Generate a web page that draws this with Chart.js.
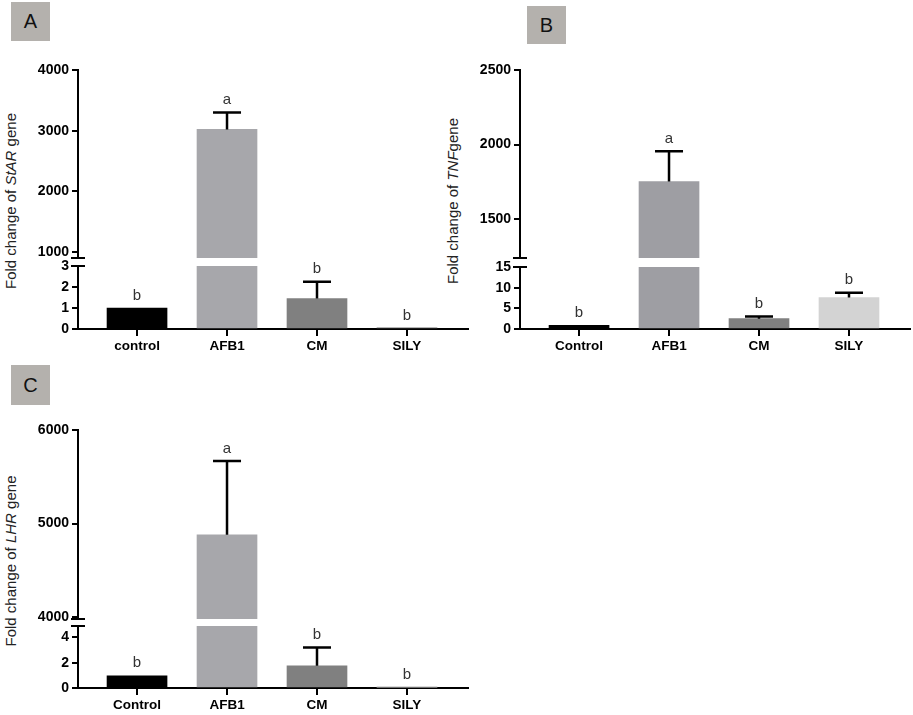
<!DOCTYPE html>
<html>
<head>
<meta charset="utf-8">
<script src="https://cdn.jsdelivr.net/npm/chart.js@4.4.0/dist/chart.umd.min.js"></script>
<style>
  body { margin: 0; background: #fff; width: 913px; height: 715px; position: relative; overflow: hidden;
         font-family: "Liberation Sans", Arial, sans-serif; }
  .box { position: absolute; background: #b4b1ad; font-size: 20px; color: #111;
         display: flex; align-items: center; justify-content: center; }
  .ytitle { position: absolute; white-space: nowrap; font-size: 15px; color: #222;
            transform: translate(-50%, -50%) rotate(-90deg); }
  .seg { position: absolute; }
</style>
</head>
<body>
<div class="box" style="left:11px;top:2px;width:39px;height:39px">A</div>
<div class="box" style="left:527px;top:6px;width:39px;height:38px">B</div>
<div class="box" style="left:11px;top:365px;width:39px;height:40px">C</div>

<div class="ytitle" style="left:10px;top:201px">Fold change of <i>StAR</i> gene</div>
<div class="ytitle" style="left:452px;top:201px">Fold change of <i>TNF</i>gene</div>
<div class="ytitle" style="left:10px;top:561px">Fold change of <i>LHR</i> gene</div>

<script>
// groups
const starGroups = ['control', 'AFB1', 'CM', 'SILY'];
const otherGroups = ['Control', 'AFB1', 'CM', 'SILY'];

// panel A - StAR
const starMeans = [1, 3020, 1.45, 0.05];
const starErrors = [0, 280, 0.8, 0];
const starLetters = ['b', 'a', 'b', 'b'];
const starUpperTicks = [1000, 2000, 3000, 4000];
const starLowerTicks = [0, 1, 2, 3];
const starUpperRange = [900, 4000];
const starLowerRange = [0, 3];

// panel B - TNF
const tnfMeans = [0.9, 1752, 2.5, 7.6];
const tnfErrors = [0, 203, 0.5, 1.2];
const tnfLetters = ['b', 'a', 'b', 'b'];
const tnfUpperTicks = [1500, 2000, 2500];
const tnfLowerTicks = [0, 5, 10, 15];
const tnfUpperRange = [1240, 2500];
const tnfLowerRange = [0, 15];

// panel C - LHR
const lhrMeans = [0.96, 4880, 1.75, 0.02];
const lhrErrors = [0, 790, 1.45, 0];
const lhrLetters = ['b', 'a', 'b', 'b'];
const lhrUpperTicks = [4000, 5000, 6000];
const lhrLowerTicks = [0, 2, 4];
const lhrUpperRange = [3980, 6000];
const lhrLowerRange = [0, 4.9];

const colorsAC = ['#000000', '#a7a7ab', '#808080', '#6e6e6e'];
const colorsB = ['#000000', '#9e9ea3', '#808080', '#d3d3d3'];

const YW = 50, XH = 30, PAD = 15;
const FONT = '"Liberation Sans", Arial, sans-serif';

// error bars + significance letters, drawn only in the segment holding the mean
function barExtras(cfg) {
  return {
    id: 'barExtras',
    afterDatasetsDraw(chart) {
      const ctx = chart.ctx;
      const y = chart.scales.y;
      const meta = chart.getDatasetMeta(0);
      ctx.save();
      ctx.strokeStyle = '#000';
      ctx.lineWidth = 2.5;
      cfg.means.forEach((v, i) => {
        if (v < y.min || v > y.max) return;
        const cx = meta.data[i].x;
        let top = y.getPixelForValue(v);
        const e = cfg.errors[i];
        if (e > 0) {
          const ey = y.getPixelForValue(Math.min(v + e, y.max));
          ctx.beginPath();
          ctx.moveTo(cx, top);
          ctx.lineTo(cx, ey);
          ctx.moveTo(cx - 14, ey);
          ctx.lineTo(cx + 14, ey);
          ctx.stroke();
          top = ey;
        }
        ctx.fillStyle = '#333';
        ctx.font = '15px ' + FONT;
        ctx.textAlign = 'center';
        ctx.textBaseline = 'bottom';
        ctx.fillText(cfg.letters[i], cx, top - 5);
      });
      // axis break mark
      const a = chart.chartArea;
      const by = cfg.showX ? a.top : a.bottom;
      ctx.lineWidth = 2;
      ctx.beginPath();
      ctx.moveTo(a.left - 7, by);
      ctx.lineTo(a.left + 7, by);
      ctx.stroke();
      ctx.restore();
    }
  };
}

function segment(cfg) {
  const left = cfg.axisX - YW;
  const top = cfg.top - PAD;
  const bottomPad = cfg.showX ? 4 : PAD;
  const height = cfg.bottom - top + (cfg.showX ? XH : 0) + bottomPad;
  const width = cfg.right - left + 3;
  const div = document.createElement('div');
  div.className = 'seg';
  div.style.left = left + 'px';
  div.style.top = top + 'px';
  const canvas = document.createElement('canvas');
  canvas.width = width;
  canvas.height = height;
  div.appendChild(canvas);
  document.body.appendChild(div);

  new Chart(canvas, {
    type: 'bar',
    data: {
      datasets: [{
        data: cfg.means.map((v, i) => ({ x: i, y: v })),
        backgroundColor: cfg.colors,
        barThickness: 60,
        borderWidth: 0,
        clip: 0
      }]
    },
    options: {
      responsive: false,
      animation: false,
      layout: { padding: { top: PAD, bottom: bottomPad, left: 0, right: 3 } },
      plugins: { legend: { display: false }, tooltip: { enabled: false } },
      scales: {
        x: {
          type: 'linear',
          min: -0.656,
          max: 3.678,
          offset: false,
          display: cfg.showX,
          afterBuildTicks: s => { s.ticks = cfg.groups.map((g, i) => ({ value: i })); },
          afterFit: s => { if (cfg.showX) s.height = XH; },
          ticks: {
            callback: v => cfg.groups[v],
            font: { family: FONT, size: 13.5, weight: 'bold' },
            color: '#000',
            padding: 2,
            autoSkip: false,
            maxRotation: 0
          },
          grid: { drawOnChartArea: false, tickLength: 7, color: '#000', lineWidth: 2, offset: false },
          border: { display: true, color: '#000', width: 2 }
        },
        y: {
          min: cfg.range[0],
          max: cfg.range[1],
          afterBuildTicks: s => { s.ticks = cfg.ticks.map(v => ({ value: v })); },
          afterFit: s => { s.width = YW; },
          ticks: {
            callback: v => String(v),
            font: { family: FONT, size: 14, weight: 'bold' },
            color: '#000',
            padding: 3
          },
          grid: { drawOnChartArea: false, tickLength: 6, color: '#000', lineWidth: 2 },
          border: { display: true, color: '#000', width: 2 }
        }
      }
    },
    plugins: [barExtras(cfg)]
  });
}

function panel(p) {
  segment({ axisX: p.axisX, right: p.right, top: p.upperTop, bottom: p.upperBottom, showX: false,
            range: p.upperRange, ticks: p.upperTicks, groups: p.groups, means: p.means,
            errors: p.errors, letters: p.letters, colors: p.colors });
  segment({ axisX: p.axisX, right: p.right, top: p.lowerTop, bottom: p.lowerBottom, showX: true,
            range: p.lowerRange, ticks: p.lowerTicks, groups: p.groups, means: p.means,
            errors: p.errors, letters: p.letters, colors: p.colors });
}

panel({ axisX: 78, right: 468, upperTop: 70, upperBottom: 258, lowerTop: 266, lowerBottom: 329,
        upperRange: starUpperRange, upperTicks: starUpperTicks, lowerRange: starLowerRange, lowerTicks: starLowerTicks,
        groups: starGroups, means: starMeans, errors: starErrors, letters: starLetters, colors: colorsAC });

panel({ axisX: 520, right: 910, upperTop: 70, upperBottom: 258, lowerTop: 267, lowerBottom: 329,
        upperRange: tnfUpperRange, upperTicks: tnfUpperTicks, lowerRange: tnfLowerRange, lowerTicks: tnfLowerTicks,
        groups: otherGroups, means: tnfMeans, errors: tnfErrors, letters: tnfLetters, colors: colorsB });

panel({ axisX: 78, right: 468, upperTop: 430, upperBottom: 619, lowerTop: 626, lowerBottom: 688,
        upperRange: lhrUpperRange, upperTicks: lhrUpperTicks, lowerRange: lhrLowerRange, lowerTicks: lhrLowerTicks,
        groups: otherGroups, means: lhrMeans, errors: lhrErrors, letters: lhrLetters, colors: colorsAC });
</script>
</body>
</html>
